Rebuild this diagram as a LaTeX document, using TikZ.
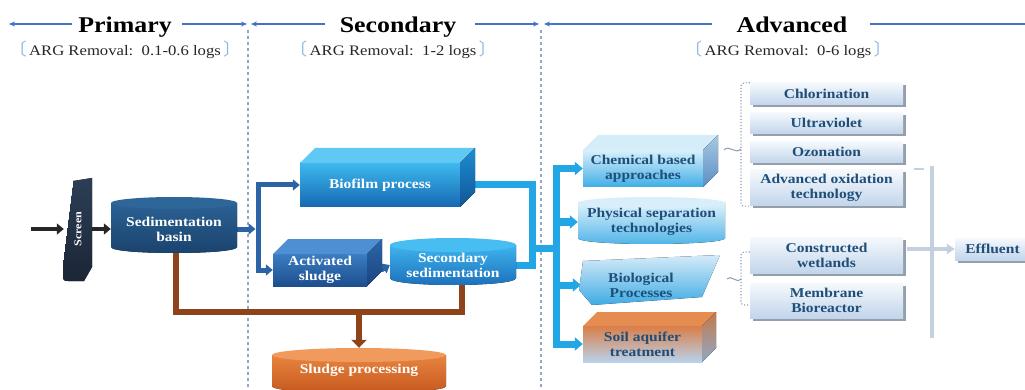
\documentclass[tikz,border=0pt]{standalone}
\usepackage{fontspec}
\setmainfont{Liberation Serif}[FakeStretch=1.15]
\newfontfamily\cjk{Noto Sans CJK SC}
\usetikzlibrary{arrows.meta,shadows,backgrounds}
\definecolor{hdrblue}{HTML}{4472C4}
\definecolor{dashc}{HTML}{8FA8C8}
\definecolor{dbline}{HTML}{2A64A4}
\definecolor{lbline}{HTML}{22A6E6}
\definecolor{brline}{HTML}{8E4318}
\definecolor{txtblue}{HTML}{1F4E79}
\definecolor{brk}{HTML}{8DB3E2}
\definecolor{rbtop}{HTML}{F5F9FD}
\definecolor{rbbot}{HTML}{C2D5EB}
\definecolor{shd}{HTML}{7A8796}
\definecolor{dotc}{HTML}{8C9DB3}
\definecolor{bigc}{HTML}{C3D0E0}
\definecolor{scrtop}{HTML}{2C3E56}
\definecolor{scrbot}{HTML}{1B2636}
\definecolor{sedT}{HTML}{2B6194}
\definecolor{sedB}{HTML}{1A426C}
\definecolor{sedC}{HTML}{2E6699}
\definecolor{bfT}{HTML}{3DB9EE}
\definecolor{bfB}{HTML}{1668B2}
\definecolor{bfTop}{HTML}{5FC9F3}
\definecolor{bfS1}{HTML}{1E8DD3}
\definecolor{bfS2}{HTML}{115596}
\definecolor{acT}{HTML}{3B7DC2}
\definecolor{acB}{HTML}{1D4E8E}
\definecolor{acTop}{HTML}{4E8ED2}
\definecolor{acS1}{HTML}{2A65A8}
\definecolor{acS2}{HTML}{1B4580}
\definecolor{secT}{HTML}{3FB4EE}
\definecolor{secB}{HTML}{1A6DB8}
\definecolor{secC}{HTML}{48BDF2}
\definecolor{slT}{HTML}{E9843F}
\definecolor{slB}{HTML}{C2561C}
\definecolor{slC}{HTML}{F09A5E}
\definecolor{chT}{HTML}{D9F0FB}
\definecolor{chB}{HTML}{40AEE6}
\definecolor{chTop}{HTML}{D5EDF9}
\definecolor{chS1}{HTML}{A7C8E2}
\definecolor{chS2}{HTML}{5B8FC2}
\definecolor{phT}{HTML}{DDF1FB}
\definecolor{phB}{HTML}{4AB2E7}
\definecolor{phC}{HTML}{D8EEFA}
\definecolor{biT}{HTML}{D5EBF8}
\definecolor{biB}{HTML}{3EABE4}
\definecolor{soT}{HTML}{DA7E48}
\definecolor{soB}{HTML}{B9D2EC}
\definecolor{soTop}{HTML}{E58C50}
\definecolor{soS1}{HTML}{C47A4A}
\definecolor{soS2}{HTML}{8FA8C6}
% x1 y1 x2 y2 depth fronttop frontbottom topface sideface-options
\newcommand{\mycuboid}[9]{%
  \fill[top color=#6,bottom color=#7] (#1,#2) rectangle (#3,#4);
  \fill[#8] (#1,#2) -- (#1+#5,#2-#5) -- (#3+#5,#2-#5) -- (#3,#2) -- cycle;
  \fill[#9] (#3,#2) -- (#3+#5,#2-#5) -- (#3+#5,#4-#5) -- (#3,#4) -- cycle;}
% x1 y1 x2 y2 ry top bottom cap
\newcommand{\mydrum}[8]{%
  \fill[top color=#6,bottom color=#7] (#1,#2) -- (#1,#4) .. controls (#1,#4+1.333*#5) and (#3,#4+1.333*#5) .. (#3,#4) -- (#3,#2) -- cycle;
  \fill[#8] ({(#1+#3)/2},#2) ellipse [x radius={(#3-#1)/2}, y radius=#5];}
\newcommand{\lbrk}{\textcolor{brk}{\cjk\fontsize{17}{17}\selectfont 〔}}
\newcommand{\rbrk}{\textcolor{brk}{\cjk\fontsize{17}{17}\selectfont 〕}}
\tikzset{
  every node/.style={inner sep=0pt},
  ttl/.style={font=\bfseries\fontsize{22.5}{26}\selectfont},
  subt/.style={font=\fontsize{14.5}{17}\selectfont, text=black!85},
  wt/.style={font=\bfseries\fontsize{13.5}{15}\selectfont, text=white, align=center},
  bt/.style={font=\bfseries\fontsize{13.5}{15}\selectfont, text=txtblue, align=center},
  rbox/.style={bt, top color=rbtop, bottom color=rbbot,
    drop shadow={shadow xshift=2.5pt, shadow yshift=-2.5pt, fill=shd, opacity=0.8}},
  hdr/.style={draw=hdrblue, line width=1.3pt},
  hdrarr/.style={hdr, -{Stealth[length=6pt,width=5pt]}},
  vdash/.style={draw=dashc, line width=1.4pt, dash pattern=on 3pt off 3pt},
  blkarr/.style={draw=black!85, line width=4pt, -{Triangle[length=7pt,width=11pt]}},
  dbl/.style={draw=dbline, line width=5pt},
  dbarr/.style={dbl, -{Triangle[length=7pt,width=11pt]}},
  lbl/.style={draw=lbline, line width=7pt},
  lbarr/.style={lbl, -{Triangle[length=8pt,width=13pt]}},
  brl/.style={draw=brline, line width=6pt},
  brarr/.style={brl, -{Triangle[length=8pt,width=15pt]}},
  dotb/.style={draw=dotc, line width=1.1pt, dotted, rounded corners=3pt},
  sqg/.style={draw=dotc, line width=1pt},
  bigbr/.style={draw=bigc, line width=4pt},
  bigarr/.style={draw=bigc, line width=4pt, -{Triangle[length=8pt,width=10pt]}},
}
\begin{document}
\begin{tikzpicture}[x=1pt,y=-1pt]
\useasboundingbox (0,0) rectangle (1025,390);

% ---------- headers ----------
\node[ttl, anchor=base] (tPrim) at (125,33) {Primary};
\node[ttl, anchor=base] (tSec) at (398,33) {Secondary};
\node[ttl, anchor=base] (tAdv) at (792,33) {Advanced};
\coordinate (hP0) at (9,24);   \coordinate (hP1) at (72,24);
\coordinate (hP2) at (182,24); \coordinate (hP3) at (247,24);
\coordinate (hS0) at (251,24); \coordinate (hS1) at (325,24);
\coordinate (hS2) at (475,24); \coordinate (hS3) at (539,24);
\coordinate (hA0) at (544,24); \coordinate (hA1) at (712,24);
\coordinate (hA2) at (870,24); \coordinate (hA3) at (1025,24);
\draw[hdrarr] (hP1) -- (hP0);
\draw[hdrarr] (hP2) -- (hP3);
\draw[hdrarr] (hS1) -- (hS0);
\draw[hdrarr] (hS2) -- (hS3);
\draw[hdrarr] (hA1) -- (hA0);
\draw[hdr] (hA2) -- (hA3);

\node[subt, anchor=base] (s1) at (125,56) {\lbrk\,ARG Removal:\ \ 0.1-0.6 logs\,\rbrk};
\node[subt, anchor=base] (s2) at (393,56) {\lbrk\,ARG Removal:\ \ 1-2 logs\,\rbrk};
\node[subt, anchor=base] (s3) at (788,56) {\lbrk\,ARG Removal:\ \ 0-6 logs\,\rbrk};

% ---------- shapes ----------
% screen
\fill[top color=scrtop, bottom color=scrbot]
  (92,178) -- (73,181) -- (73,188) -- (72,188) -- (72,196) -- (71,196) -- (71,204)
  -- (70,204) -- (70,212) -- (69,212) -- (69,220) -- (68,220) -- (68,228) -- (67,228)
  -- (67,236) -- (66,236) -- (66,244) -- (65,244) -- (65,252) -- (64,252) -- (64,260)
  -- (63,260) -- (63,276) .. controls (63,280) and (64,281) .. (68,281)
  -- (84,281) -- (92,267) -- cycle;
\mydrum{111}{203}{237}{247}{6}{sedT}{sedB}{sedC}
\mycuboid{300}{163}{460}{207}{15}{bfT}{bfB}{bfTop}{top color=bfS1,bottom color=bfS2}
\mycuboid{273}{254}{367}{286}{15}{acT}{acB}{acTop}{top color=acS1,bottom color=acS2}
\mydrum{390}{245}{516}{278}{7}{secT}{secB}{secC}
\mydrum{272}{355}{446}{386}{7}{slT}{slB}{slC}
\mycuboid{583}{150}{703}{187}{15}{chT}{chB}{chTop}{top color=chS1,bottom color=chS2}
\mydrum{578}{203}{725}{238}{6}{phT}{phB}{phC}
\fill[top color=biT, bottom color=biB] (583,261) -- (720,255) -- (702,297) -- (592,305) -- (579,290) -- cycle;
\mycuboid{583}{326}{702}{362}{14}{soT}{soB}{soTop}{top color=soS1,bottom color=soS2}

% ---------- nodes ----------
\node[wt, rotate=90, minimum width=100, minimum height=28, font=\bfseries\fontsize{10.5}{12}\selectfont] (scr) at (78,229) {Screen};
\node[wt, minimum width=126, minimum height=44] (sed) at (174,229) {Sedimentation\\basin};
\node[wt, minimum width=160, minimum height=44] (bio) at (380,185) {Biofilm process};
\node[wt, minimum width=94, minimum height=32] (act) at (320,270) {Activated\\sludge};
\node[wt, minimum width=126, minimum height=30] (sec) at (453,265) {Secondary\\sedimentation};
\node[wt, minimum width=174, minimum height=44] (slu) at (359,370) {Sludge processing};
\node[bt, minimum width=120, minimum height=37] (chem) at (643,168.5) {Chemical based\\approaches};
\node[bt, minimum width=147, minimum height=35] (phys) at (651.5,222) {Physical separation\\technologies};
\node[bt, minimum width=120, minimum height=40] (biol) at (641,285) {Biological\\Processes};
\node[bt, minimum width=119, minimum height=36] (soil) at (642.5,344) {Soil aquifer\\treatment};

\node[rbox, minimum width=153, minimum height=22] (chl) at (826.5,94) {Chlorination};
\node[rbox, minimum width=153, minimum height=21] (ult) at (826.5,123) {Ultraviolet};
\node[rbox, minimum width=153, minimum height=21] (ozo) at (826.5,152) {Ozonation};
\node[rbox, minimum width=153, minimum height=36] (aot) at (826.5,188) {Advanced oxidation\\technology};
\node[rbox, minimum width=153, minimum height=36] (cw) at (826.5,255) {Constructed\\wetlands};
\node[rbox, minimum width=153, minimum height=35] (mb) at (826.5,300.5) {Membrane\\Bioreactor};
\node[rbox, minimum width=75, minimum height=22] (eff) at (992.5,249) {Effluent};

% ---------- connectors (behind the shapes) ----------
\begin{scope}[on background layer]
  \fill[white] (0,0) rectangle (1025,390);
  \coordinate (v1t) at (248,30); \coordinate (v1b) at (248,390);
  \coordinate (v2t) at (541,30); \coordinate (v2b) at (541,390);
  \draw[vdash] (v1t) -- (v1b);
  \draw[vdash] (v2t) -- (v2b);

  \coordinate (inp) at (31,229);
  \draw[blkarr] (inp) -- (scr.north);
  \draw[blkarr] (scr.south) -- (sed.west);

  \coordinate (dj) at (258,229);
  \draw[dbarr] (sed.east) -- ([xshift=-2.5pt]dj);
  \draw[dbarr] (dj) |- (bio.west);
  \draw[dbarr] (dj) |- (act.west);
  \draw[dbarr] ([xshift=14pt]act.east) -- (sec.west);

  \coordinate (lj) at (532,248);
  \coordinate (tk) at (556,248);
  \draw[lbl] (bio.east) -| (lj) |- (sec.east);
  \draw[lbl] (lj) -- (tk);
  \draw[lbarr] (tk) |- (chem.west);
  \draw[lbarr] (tk) |- (phys.west);
  \draw[lbarr] (tk) |- (biol.west);
  \draw[lbarr] (tk) |- (soil.west);

  \coordinate (bl) at (176,312);
  \coordinate (br) at (462,312);
  \coordinate (bm) at (359,312);
  \draw[brl] (sed.south -| bl) -- (bl) -- (br) -- (br |- sec.south);
  \draw[brarr] (bm) -- (slu.north);

  \coordinate (db1) at (741,149);
  \coordinate (sq1) at (724,150);
  \draw[dotb] (chl.north west) -| (db1) |- (aot.south west);
  \draw[sqg] (sq1) .. controls (729,144) and (735,155) .. (db1);
  \coordinate (db2) at (741,279);
  \coordinate (sq2) at (727,279);
  \draw[dotb] ([yshift=3pt]cw.west) -| (db2) |- ([yshift=-4.5pt]mb.west);
  \draw[sqg] (sq2) .. controls (731,274) and (736,284) .. (db2);

  \coordinate (bbt) at (932,166); \coordinate (bbb) at (932,338);
  \draw[bigbr] (bbt) -- (bbb);
  \coordinate (bd1) at (914,169); \coordinate (bd2) at (924,169);
  \draw[bigbr, line width=2.5pt] (bd1) -- (bd2);
  \draw[bigarr] ([xshift=4pt]cw.east |- eff.west) -- (eff.west);
\end{scope}
\end{tikzpicture}
\end{document}
